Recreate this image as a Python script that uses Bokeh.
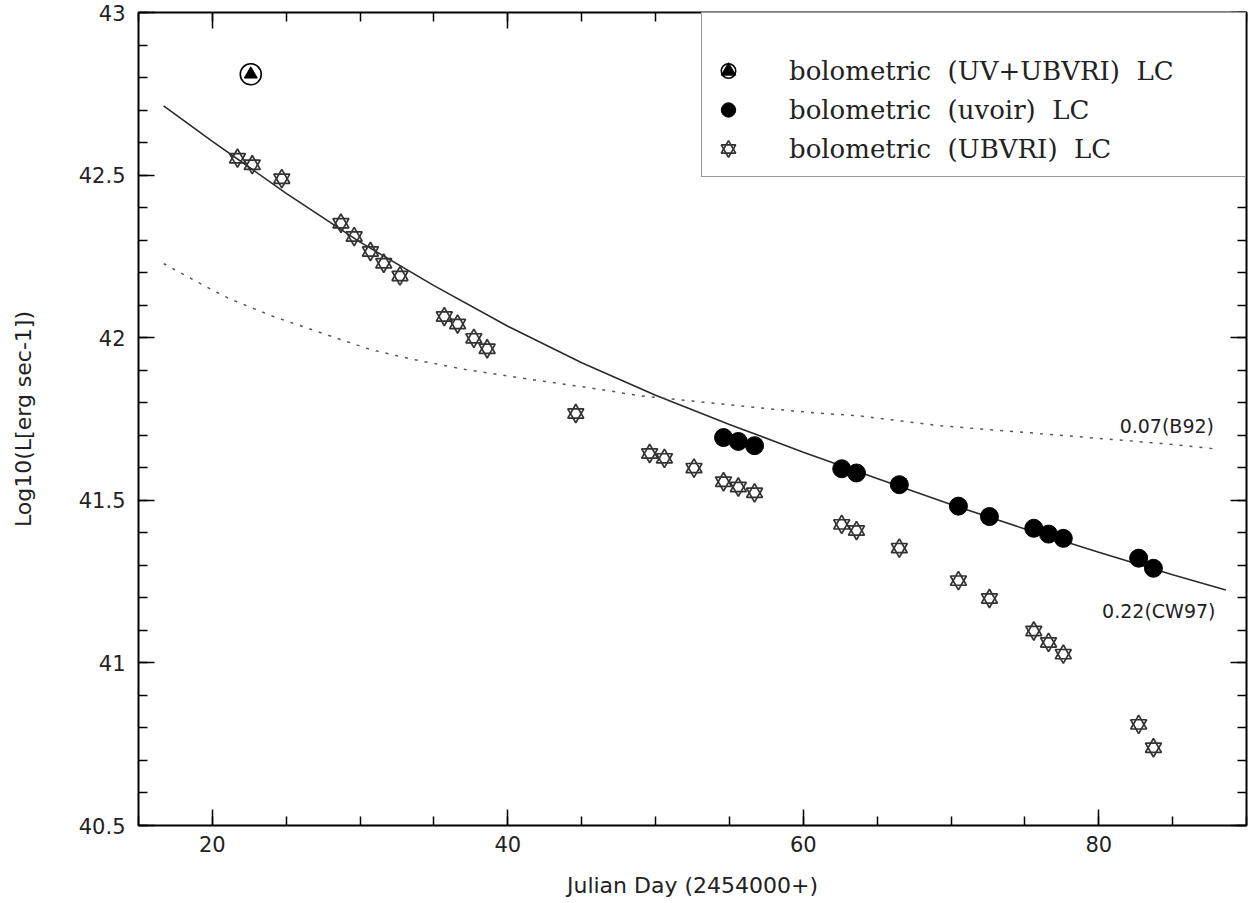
from bokeh.plotting import figure
from bokeh.models import (Range1d, LinearAxis, SingleIntervalTicker, CustomJSTickFormatter,
                          Legend, LegendItem, Label)
from bokeh.embed import file_html
from bokeh.resources import INLINE

# ---------------- data ----------------
uv_day = [22.6]
uv_logL = [42.81]

uvoir_day = [54.6, 55.6, 56.7, 62.6, 63.6, 66.5, 70.5, 72.6, 75.6, 76.6, 77.6, 82.7, 83.7]
uvoir_logL = [41.693, 41.681, 41.668, 41.597, 41.584, 41.548, 41.482, 41.450, 41.414,
              41.396, 41.383, 41.322, 41.291]

ubvri_day = [21.7, 22.7, 24.7, 28.7, 29.6, 30.7, 31.6, 32.7, 35.7, 36.6, 37.7, 38.6, 44.6,
             49.6, 50.6, 52.6, 54.6, 55.6, 56.7, 62.6, 63.6, 66.5, 70.5, 72.6, 75.6, 76.6,
             77.6, 82.7, 83.7]
ubvri_logL = [42.552, 42.532, 42.489, 42.352, 42.311, 42.265, 42.229, 42.190, 42.065, 42.042,
              41.998, 41.966, 41.767, 41.644, 41.629, 41.599, 41.557, 41.541, 41.523, 41.426,
              41.407, 41.353, 41.253, 41.198, 41.098, 41.063, 41.027, 40.811, 40.739]

cw97_day = [16.7, 20.0, 25.0, 30.0, 35.0, 40.0, 45.0, 50.0, 55.0, 60.0, 65.0, 70.0, 75.0,
            80.0, 85.0, 88.6]
cw97_logL = [42.713, 42.604, 42.444, 42.294, 42.160, 42.035, 41.923, 41.823, 41.733, 41.648,
             41.567, 41.487, 41.412, 41.340, 41.271, 41.224]

b92_day = [16.7, 20.1, 21.2, 24.2, 27.1, 30.6, 33.5, 37.0, 40.6, 46.1, 49.0, 54.9, 58.0,
           61.4, 63.7, 69.3, 75.2, 84.2, 88.1]
b92_logL = [42.228, 42.144, 42.119, 42.064, 42.019, 41.965, 41.934, 41.903, 41.878, 41.842,
            41.821, 41.794, 41.780, 41.767, 41.760, 41.729, 41.708, 41.675, 41.657]

legend_labels = ["bolometric\u00a0 (UV+UBVRI)\u00a0 LC",
                 "bolometric\u00a0 (uvoir)\u00a0 LC",
                 "bolometric\u00a0 (UBVRI)\u00a0 LC"]
curve_labels = ["0.07(B92)", "0.22(CW97)"]
x_title = "Julian Day (2454000+)"
y_title = "Log10(L[erg sec-1])"

# ---------------- figure ----------------
p = figure(width=1254, height=903, x_range=Range1d(15, 90), y_range=Range1d(40.5, 43),
           output_backend="svg", toolbar_location=None,
           min_border_left=138, min_border_right=8, min_border_top=12, min_border_bottom=78,
           x_axis_label=x_title, y_axis_label=y_title)
p.grid.visible = False
p.outline_line_color = "black"
p.outline_line_width = 2
p.background_fill_color = "white"
p.border_fill_color = "white"

TICK_FONT = "DejaVu Sans"

def style_axis(ax, show_labels):
    ax.axis_line_color = None
    ax.major_tick_in = 16
    ax.major_tick_out = 0
    ax.minor_tick_in = 9
    ax.minor_tick_out = 0
    ax.major_tick_line_color = "black"
    ax.minor_tick_line_color = "black"
    ax.major_tick_line_width = 1.5
    ax.minor_tick_line_width = 1.5
    if show_labels:
        ax.major_label_text_font = TICK_FONT
        ax.major_label_text_font_size = "21px"
        ax.major_label_text_color = "#222222"
        ax.axis_label_text_font = TICK_FONT
        ax.axis_label_text_font_size = "22px"
        ax.axis_label_text_font_style = "normal"
        ax.axis_label_text_color = "#222222"
    else:
        ax.major_label_text_font_size = "0px"
        ax.major_label_standoff = 0
        ax.formatter = CustomJSTickFormatter(code="return '';")

xax = p.xaxis[0]
xax.ticker = SingleIntervalTicker(interval=20, num_minor_ticks=4)
style_axis(xax, True)
xax.major_label_standoff = 10
xax.axis_label_standoff = 18

yax = p.yaxis[0]
yax.ticker = SingleIntervalTicker(interval=0.5, num_minor_ticks=5)
yax.formatter = CustomJSTickFormatter(code="return tick.toString();")
style_axis(yax, True)
yax.major_label_standoff = 13
yax.axis_label_standoff = 40

rax = LinearAxis(ticker=SingleIntervalTicker(interval=0.5, num_minor_ticks=5))
style_axis(rax, False)
p.add_layout(rax, "right")
tax = LinearAxis(ticker=SingleIntervalTicker(interval=20, num_minor_ticks=4))
style_axis(tax, False)
p.add_layout(tax, "above")

# ---------------- model curves ----------------
p.line(cw97_day, cw97_logL, line_color="#2a2a2a", line_width=1.6)
p.line(b92_day, b92_logL, line_color="#555555", line_width=1.5, line_dash="3 7")

# ---------------- data points ----------------
star_up = p.scatter(ubvri_day, ubvri_logL, marker="triangle", size=16,
                    fill_alpha=0, line_color="#333333", line_width=1.7)
star_dn = p.scatter(ubvri_day, ubvri_logL, marker="inverted_triangle", size=16,
                    fill_alpha=0, line_color="#333333", line_width=1.7)

uvoir_r = p.scatter(uvoir_day, uvoir_logL, marker="circle", size=18,
                    fill_color="black", line_color="black")

uv_circ = p.scatter(uv_day, uv_logL, marker="circle", size=21,
                    fill_color="white", line_color="black", line_width=1.6)
uv_tri = p.scatter(uv_day, uv_logL, marker="triangle", size=13,
                   fill_color="black", line_color="black")

# ---------------- curve labels ----------------
lab_font = "DejaVu Sans"
p.add_layout(Label(x=87.8, y=41.729, text=curve_labels[0], text_align="right",
                   text_baseline="middle", text_font=lab_font, text_font_size="19px",
                   text_color="#222222"))
p.add_layout(Label(x=87.9, y=41.16, text=curve_labels[1], text_align="right",
                   text_baseline="middle", text_font=lab_font, text_font_size="19px",
                   text_color="#222222"))

# ---------------- legend ----------------
legend = Legend(items=[LegendItem(label=legend_labels[0], renderers=[uv_circ, uv_tri]),
                       LegendItem(label=legend_labels[1], renderers=[uvoir_r]),
                       LegendItem(label=legend_labels[2], renderers=[star_up, star_dn])],
                location="top_right", margin=0, padding=8, spacing=0,
                glyph_width=36, glyph_height=39, label_height=39, label_width=448,
                label_standoff=43, label_text_font="DejaVu Serif",
                label_text_font_size="26px", label_text_color="#222222",
                border_line_color="#333333", border_line_width=1.5,
                background_fill_color="white", background_fill_alpha=1.0,
                title=" ", title_text_font_size="19px", title_standoff=8)
p.add_layout(legend)

open("out.html", "w").write(file_html(p, INLINE))
